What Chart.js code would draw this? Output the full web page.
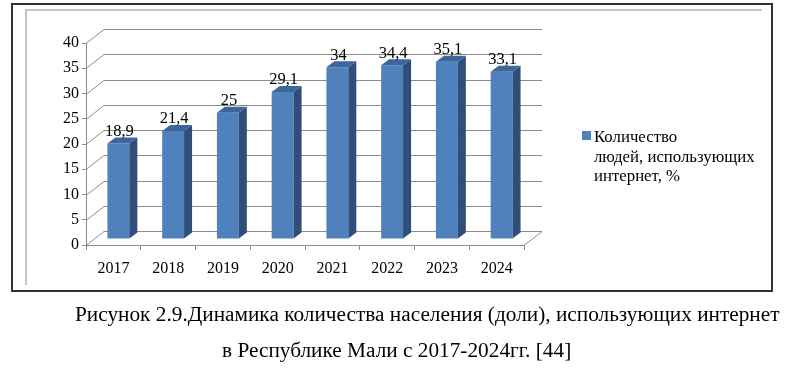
<!DOCTYPE html>
<html>
<head>
<meta charset="utf-8">
<script src="https://cdn.jsdelivr.net/npm/chart.js@4.4.1/dist/chart.umd.min.js"></script>
<style>
  body { margin: 0; background: #fff; }
  #wrap { position: relative; width: 800px; height: 389px; overflow: hidden; }
  #frame { position: absolute; left: 11px; top: 3px; width: 758px; height: 285px; border: 2px solid #333; }
  #lineTop { position: absolute; left: 25px; top: 9px; width: 737px; height: 2px; background: #c4c4c4; }
  #lineLeft { position: absolute; left: 25px; top: 9px; width: 2px; height: 276px; background: #c4c4c4; }
  canvas { position: absolute; left: 0; top: 0; }
  .cap { position: absolute; white-space: nowrap; font-family: "Liberation Serif", serif; font-size: 21.3px; line-height: 24px; color: #000; }
</style>
</head>
<body>
<div id="wrap">
  <div id="frame"></div>
  <div id="lineTop"></div>
  <div id="lineLeft"></div>
  <canvas id="myChart" width="800" height="389"></canvas>
  <div class="cap" style="left:75px; top:302px;">Рисунок 2.9.Динамика количества населения (доли), использующих интернет</div>
  <div class="cap" style="left:222px; top:338px;">в Республике Мали с 2017-2024гг. [44]</div>
</div>
<script>
// данные
const years = ['2017', '2018', '2019', '2020', '2021', '2022', '2023', '2024'];
const usersShare = [18.9, 21.4, 25, 29.1, 34, 34.4, 35.1, 33.1];
const seriesName = ['Количество', 'людей, использующих', 'интернет, %'];

const FONT = '"Liberation Serif", serif';
const DX = 18, DY = 14;   // сдвиг задней стенки
const BX = 5, BY = 6;     // сдвиг столбцов внутрь
const SX = 8, SY = 6;     // глубина столбца

const fakeThreeD = {
    id: 'fakeThreeD',
    beforeDatasetsDraw(chart) {
        const ctx = chart.ctx;
        const y = chart.scales.y;
        const a = chart.chartArea;
        ctx.save();
        ctx.strokeStyle = '#8c8c8c';
        ctx.lineWidth = 1;
        y.ticks.forEach(t => {
            const py = Math.round(y.getPixelForValue(t.value)) + 0.5;
            ctx.beginPath();
            ctx.moveTo(a.left, py);
            ctx.lineTo(a.left + DX, py - DY);
            ctx.lineTo(a.right + DX, py - DY);
            ctx.stroke();
        });
        // правый край пола
        ctx.beginPath();
        ctx.moveTo(a.right, a.bottom + 0.5);
        ctx.lineTo(a.right + DX, a.bottom + 0.5 - DY);
        ctx.stroke();
        ctx.restore();

        ctx.save();
        ctx.translate(BX, -BY);
    },
    afterDatasetsDraw(chart) {
        const ctx = chart.ctx;
        const meta = chart.getDatasetMeta(0);
        meta.data.forEach((bar, i) => {
            const l = bar.x - bar.width / 2;
            const r = bar.x + bar.width / 2;
            ctx.fillStyle = '#2f4e7a';
            ctx.beginPath();
            ctx.moveTo(r, bar.y);
            ctx.lineTo(r + SX, bar.y - SY);
            ctx.lineTo(r + SX, bar.base - SY);
            ctx.lineTo(r, bar.base);
            ctx.closePath();
            ctx.fill();
            ctx.fillStyle = '#3d669b';
            ctx.beginPath();
            ctx.moveTo(l, bar.y);
            ctx.lineTo(l + SX, bar.y - SY);
            ctx.lineTo(r + SX, bar.y - SY);
            ctx.lineTo(r, bar.y);
            ctx.closePath();
            ctx.fill();

            ctx.fillStyle = '#000';
            ctx.font = '16.5px ' + FONT;
            ctx.textAlign = 'center';
            ctx.textBaseline = 'middle';
            ctx.fillText(String(usersShare[i]).replace('.', ','), bar.x + 1, bar.y - 12);
        });
        ctx.restore();
    },
    afterDraw(chart) {
        const ctx = chart.ctx;
        ctx.save();
        ctx.fillStyle = '#4f81bd';
        ctx.fillRect(582, 131, 9, 9);
        ctx.fillStyle = '#000';
        ctx.font = '16.8px ' + FONT;
        ctx.textAlign = 'left';
        ctx.textBaseline = 'alphabetic';
        seriesName.forEach((s, i) => ctx.fillText(s, 594, 142 + i * 19.5));
        ctx.restore();
    }
};

const myChart = new Chart(document.getElementById('myChart').getContext('2d'), {
    type: 'bar',
    data: {
        labels: years,
        datasets: [{
            label: seriesName.join(' '),
            data: usersShare,
            backgroundColor: '#4f81bd',
            barPercentage: 0.4,
            categoryPercentage: 1
        }]
    },
    options: {
        responsive: false,
        animation: false,
        layout: { padding: { left: 0, top: 43, right: 276, bottom: 114 } },
        plugins: { legend: { display: false }, tooltip: { enabled: false } },
        scales: {
            x: {
                afterFit(s) { s.height = 30; },
                grid: { offset: true, drawOnChartArea: false, tickLength: 5, color: '#8c8c8c' },
                border: { color: '#8c8c8c' },
                ticks: { color: '#000', padding: 9, font: { family: FONT, size: 16 } }
            },
            y: {
                min: 0,
                max: 40,
                afterFit(s) { s.width = 86; },
                grid: { drawOnChartArea: false, tickLength: 4, color: '#8c8c8c' },
                border: { color: '#8c8c8c' },
                ticks: { stepSize: 5, color: '#000', padding: 3, font: { family: FONT, size: 16 } }
            }
        }
    },
    plugins: [fakeThreeD]
});
</script>
</body>
</html>
